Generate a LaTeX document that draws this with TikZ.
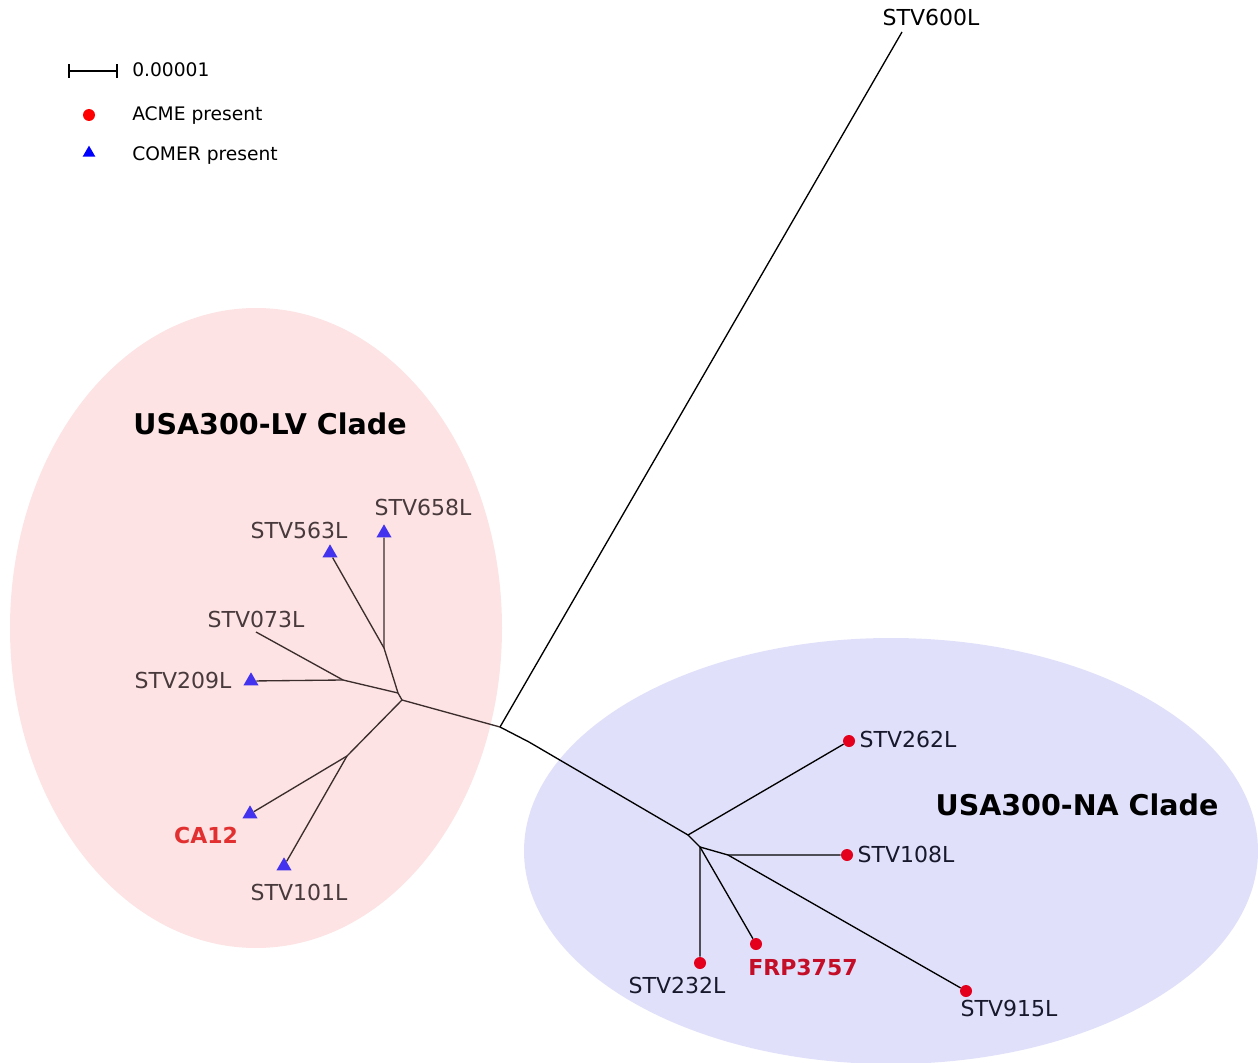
\documentclass[tikz,border=0pt]{standalone}
\usepackage{fontspec}
\setmainfont{DejaVu Sans}
\usetikzlibrary{shapes.geometric}
\definecolor{pinkfill}{RGB}{253,227,227}
\definecolor{bluefill}{RGB}{224,224,250}
\definecolor{lvtext}{RGB}{72,58,60}
\definecolor{natext}{RGB}{24,24,44}
\definecolor{tricol}{RGB}{68,51,238}
\definecolor{dotcol}{RGB}{228,0,28}
\definecolor{cacol}{RGB}{226,48,48}
\definecolor{frpcol}{RGB}{196,14,40}
\definecolor{lvline}{RGB}{60,45,45}
\begin{document}
\begin{tikzpicture}[x=0.75pt,y=-0.75pt,
  branch/.style={draw=#1, line width=1pt},
  branch/.default=black,
  lbl/.style={font=\fontsize{16.5}{20}\selectfont, inner sep=0pt, text height=12pt, text depth=0pt},
  leglbl/.style={font=\fontsize{14}{17}\selectfont, inner sep=0pt, text height=10.2pt, text depth=0pt, anchor=west},
  clade/.style={font=\bfseries\fontsize{21.4}{25}\selectfont, inner sep=0pt, text height=15.6pt, text depth=0pt},
  trimark/.style={regular polygon, regular polygon sides=3, fill=#1, minimum size=13pt, inner sep=0pt},
  trimark/.default=tricol,
  dotmark/.style={circle, fill=#1, minimum size=9pt, inner sep=0pt},
  dotmark/.default=dotcol,
]
\useasboundingbox (0,0) rectangle (1258,1063);
% clade ellipses
\fill[pinkfill] (256,628) ellipse [x radius=184.5pt, y radius=240pt];
\fill[bluefill] (891,851) ellipse [x radius=275.25pt, y radius=159.75pt];

% internal coordinates
\coordinate (root) at (500,727);
\coordinate (top) at (902,32);
\coordinate (lvA) at (402,700);
\coordinate (lvB) at (398,693);
\coordinate (lvC) at (384,648);
\coordinate (lvD) at (343,680);
\coordinate (lvE) at (347,756);
\coordinate (e073) at (256,632);
\coordinate (bend) at (529,742);
\coordinate (naA) at (688,835);
\coordinate (naB) at (700,847);
\coordinate (naC) at (728,855);

% leaf markers
\node[trimark] (t658) at (384,533) {};
\node[trimark] (t563) at (330,553) {};
\node[trimark] (t209) at (251,681) {};
\node[trimark] (tca) at (250,814) {};
\node[trimark] (t101) at (284,866) {};
\node[dotmark] (d262) at (849,741) {};
\node[dotmark] (d108) at (847,855) {};
\node[dotmark] (dfrp) at (756,944) {};
\node[dotmark] (d232) at (700,963) {};
\node[dotmark] (d915) at (966,991) {};

% branches
\draw[branch] (root) -- (top);
\draw[branch=lvline] (root) -- (lvA);
\draw[branch=lvline] (lvA) -- (lvB) -- (lvC) -- (t658);
\draw[branch=lvline] (lvC) -- (t563);
\draw[branch=lvline] (lvB) -- (lvD) -- (t209);
\draw[branch=lvline] (lvD) -- (e073);
\draw[branch=lvline] (lvA) -- (lvE) -- (tca);
\draw[branch=lvline] (lvE) -- (t101);
\draw[branch] (root) -- (bend) -- (naA) -- (d262);
\draw[branch] (naA) -- (naB) -- (d232);
\draw[branch] (naB) -- (dfrp);
\draw[branch] (naB) -- (naC) -- (d108);
\draw[branch] (naC) -- (d915);

% leaf labels
\node[lbl] (l600) at (931,18) {STV600L};
\node[lbl, text=lvtext] (l658) at (423,507) {STV658L};
\node[lbl, text=lvtext] (l563) at (299,530) {STV563L};
\node[lbl, text=lvtext] (l073) at (256,619) {STV073L};
\node[lbl, text=lvtext] (l209) at (183,680) {STV209L};
\node[lbl, text=cacol, font=\bfseries\fontsize{16.5}{20}\selectfont] (lca) at (206,835) {CA12};
\node[lbl, text=lvtext] (l101) at (299,892) {STV101L};
\node[lbl, text=natext] (l262) at (908,739) {STV262L};
\node[lbl, text=natext] (l108) at (906,854) {STV108L};
\node[lbl, text=natext] (l232) at (677,985) {STV232L};
\node[lbl, text=frpcol, font=\bfseries\fontsize{16.5}{20}\selectfont] (lfrp) at (803,967) {FRP3757};
\node[lbl, text=natext] (l915) at (1009,1008) {STV915L};

% clade titles
\node[clade] (lvtitle) at (270,424) {USA300-LV Clade};
\node[clade] (natitle) at (1077,805) {USA300-NA Clade};

% legend
\coordinate (sb1) at (68,71);
\coordinate (sb2) at (118,71);
\draw[line width=1.5pt, |-|] (sb1) -- (sb2);
\node[leglbl] (lscale) at (132,70) {0.00001};
\node[dotmark=red] (legdot) at (89,115) {};
\node[leglbl] (lacme) at (132,114) {ACME present};
\node[trimark=blue, minimum size=11pt] (legtri) at (89,153) {};
\node[leglbl] (lcomer) at (132,154) {COMER present};
\end{tikzpicture}
\end{document}
